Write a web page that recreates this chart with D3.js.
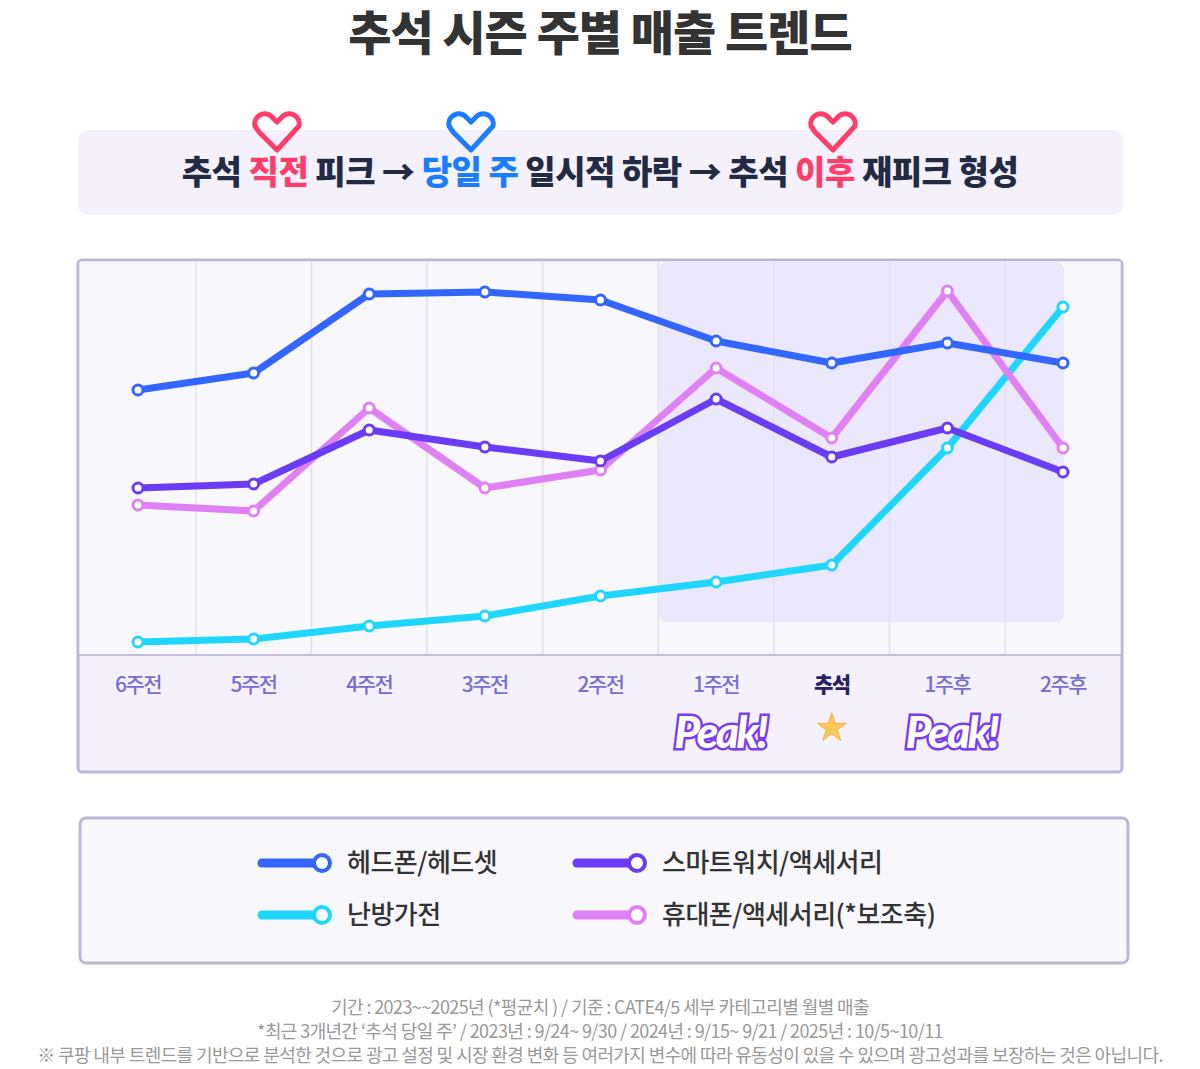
<!DOCTYPE html>
<html><head><meta charset="utf-8">
<script src="https://cdn.jsdelivr.net/npm/d3@7"></script>
<style>body{margin:0;background:#fff;font-family:"Noto Sans CJK KR",sans-serif}</style>
</head><body>
<script>
var categories = ["6주전", "5주전", "4주전", "3주전", "2주전", "1주전", "추석", "1주후", "2주후"];
var headphone = [66.25, 70.5, 90.25, 90.75, 88.75, 78.5, 73, 78, 73];
var watch = [41.75, 42.75, 56.25, 52, 48.5, 64, 49.5, 56.75, 45.75];
var heater = [3.25, 4, 7.25, 9.75, 14.75, 18.25, 22.5, 51.75, 87];
var phoneAcc = [37.5, 36, 61.75, 41.75, 46.25, 71.75, 54.25, 91, 51.75];

var series = [
  { name: "헤드폰/헤드셋", values: headphone, color: "#3366ff" },
  { name: "스마트워치/액세서리", values: watch, color: "#6a3cf5" },
  { name: "난방가전", values: heater, color: "#1fd6ff" },
  { name: "휴대폰/액세서리(*보조축)", values: phoneAcc, color: "#e080f5" }
];

var svg = d3.select("body").append("svg").attr("width", 1200).attr("height", 1069);

svg.append("text").attr("x", 600).attr("y", 50).attr("text-anchor", "middle")
  .attr("font-size", 47).attr("font-weight", 900).attr("fill", "#333").attr("letter-spacing", -1).text("추석 시즌 주별 매출 트렌드");

// banner
svg.append("rect").attr("x", 78).attr("y", 130).attr("width", 1045).attr("height", 85).attr("rx", 10).attr("fill", "#f4f1fd");
var banner = svg.append("text").attr("x", 600).attr("y", 184).attr("text-anchor", "middle")
  .attr("font-size", 33).attr("font-weight", 900).attr("fill", "#222a44").attr("letter-spacing", -0.5);
banner.append("tspan").text("추석 ");
banner.append("tspan").attr("fill", "#ff3d6a").text("직전");
banner.append("tspan").text(" 피크 → ");
banner.append("tspan").attr("fill", "#1a7dff").text("당일 주");
banner.append("tspan").text(" 일시적 하락 → 추석 ");
banner.append("tspan").attr("fill", "#ff3d6a").text("이후");
banner.append("tspan").text(" 재피크 형성");
function check(x, c) {
  svg.append("path").attr("d", "M" + (x - 18) + ",132 l-4,-6 a10,10 0 0 1 16,-10 l6,6 l6,-6 a10,10 0 0 1 16,10 l-22,24 z")
    .attr("fill", "none").attr("stroke", c).attr("stroke-width", 5).attr("stroke-linejoin", "round");
}
check(277, "#ff3d6a"); check(471, "#1a7dff"); check(833, "#ff3d6a");

// chart frame
svg.append("rect").attr("x", 78).attr("y", 260).attr("width", 1044).attr("height", 512).attr("rx", 4)
  .attr("fill", "#f4f1fd").attr("stroke", "#bdb6d8").attr("stroke-width", 3);
svg.append("rect").attr("x", 79.5).attr("y", 261.5).attr("width", 1041).attr("height", 393).attr("fill", "#f8f7fc");

var x = d3.scalePoint().domain(categories).range([138, 1063]);
var y = d3.scaleLinear().domain([0, 100]).range([655, 255]);
var step = x.step();

svg.append("rect").attr("x", x("1주전") - step / 2 + 1).attr("y", 262).attr("width", x("2주후") - x("1주전") + step / 2)
  .attr("height", 360).attr("rx", 8).attr("fill", "#ebe8fd");

svg.selectAll(".grid").data(categories.slice(1)).enter().append("line")
  .attr("x1", function (d) { return x(d) - step / 2; }).attr("x2", function (d) { return x(d) - step / 2; })
  .attr("y1", 262).attr("y2", 655).attr("stroke", "#e3e0ee").attr("stroke-width", 1.5);
svg.append("line").attr("x1", 79).attr("x2", 1121).attr("y1", 655).attr("y2", 655).attr("stroke", "#c4bedc").attr("stroke-width", 2);

svg.selectAll(".xl").data(categories).enter().append("text")
  .attr("x", function (d) { return x(d); }).attr("y", 692).attr("text-anchor", "middle")
  .attr("font-size", 21).attr("font-weight", function (d) { return d === "추석" ? 900 : 500; })
  .attr("fill", function (d) { return d === "추석" ? "#2a2060" : "#7a6fd0"; }).attr("letter-spacing", -1.5).text(function (d) { return d; });

["1주전", "1주후"].forEach(function (c) {
  svg.append("text").attr("x", x(c) + 4).attr("y", 748).attr("text-anchor", "middle")
    .attr("font-size", 44).attr("font-weight", 900).attr("font-style", "italic").attr("font-family", "Lato, sans-serif")
    .attr("fill", "#fff").attr("stroke", "#7b3cf5").attr("stroke-width", 5).attr("paint-order", "stroke")
    .attr("letter-spacing", -2.5).text("Peak!");
});
svg.append("path").attr("d", d3.symbol(d3.symbolStar, 260)()).attr("transform", "translate(" + x("추석") + ",728)")
  .attr("fill", "#fcc85a").attr("stroke", "#f3b33d");

var line = d3.line().x(function (d, i) { return x(categories[i]); }).y(function (d) { return y(d); });
var order = [series[2], series[3], series[1], series[0]];
order.forEach(function (s) {
  svg.append("path").datum(s.values).attr("d", line).attr("fill", "none")
    .attr("stroke", s.color).attr("stroke-width", 7).attr("stroke-linejoin", "round");
  svg.selectAll(null).data(s.values).enter().append("circle")
    .attr("cx", function (d, i) { return x(categories[i]); }).attr("cy", function (d) { return y(d); })
    .attr("r", 5).attr("fill", "#fff").attr("stroke", s.color).attr("stroke-width", 3);
});

// legend
svg.append("rect").attr("x", 80).attr("y", 818).attr("width", 1048).attr("height", 145).attr("rx", 6)
  .attr("fill", "#f8f7fc").attr("stroke", "#bdb6d8").attr("stroke-width", 3);
var legPos = [[262, 863], [577, 863], [262, 915], [577, 915]];
series.forEach(function (s, i) {
  var p = legPos[i];
  svg.append("line").attr("x1", p[0]).attr("x2", p[0] + 60).attr("y1", p[1]).attr("y2", p[1])
    .attr("stroke", s.color).attr("stroke-width", 9).attr("stroke-linecap", "round");
  svg.append("circle").attr("cx", p[0] + 60).attr("cy", p[1]).attr("r", 8).attr("fill", "#fff")
    .attr("stroke", s.color).attr("stroke-width", 4);
  svg.append("text").attr("x", p[0] + 85).attr("y", p[1] + 9).attr("font-size", 26).attr("font-weight", 500)
    .attr("fill", "#333").attr("letter-spacing", -0.5).text(s.name);
});

var notes = ["기간 : 2023~~2025년 (*평균치 ) / 기준 : CATE4/5 세부 카테고리별 월별 매출",
  "*최근 3개년간 ‘추석 당일 주’ / 2023년 : 9/24~ 9/30 / 2024년 : 9/15~ 9/21 / 2025년 : 10/5~10/11",
  "※  쿠팡 내부 트렌드를 기반으로 분석한 것으로 광고 설정 및 시장 환경 변화 등 여러가지 변수에 따라 유동성이 있을 수 있으며 광고성과를 보장하는 것은 아닙니다."];
svg.selectAll(".note").data(notes).enter().append("text")
  .attr("x", 600).attr("y", function (d, i) { return 1014 + i * 24; }).attr("text-anchor", "middle")
  .attr("font-size", 18).attr("fill", "#999").attr("letter-spacing", -0.6).text(function (d) { return d; });
</script>
</body></html>
